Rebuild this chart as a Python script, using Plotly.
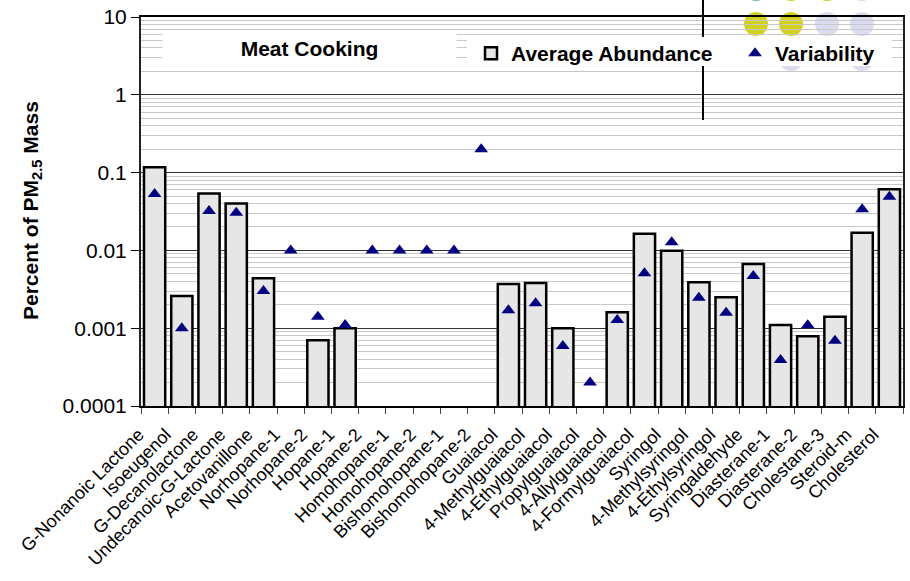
import plotly.graph_objects as go

categories = ["G-Nonanoic Lactone", "Isoeugenol", "G-Decanolactone", "Undecanoic-G-Lactone",
              "Acetovanillone", "Norhopane-1", "Norhopane-2", "Hopane-1", "Hopane-2",
              "Homohopane-1", "Homohopane-2", "Bishomohopane-1", "Bishomohopane-2",
              "Guaiacol", "4-Methylguaiacol", "4-Ethylguaiacol", "Propylguaiacol",
              "4-Allylguaiacol", "4-Formylguaiacol", "Syringol", "4-Methylsyringol",
              "4-Ethylsyringol", "Syringaldehyde", "Diasterane-1", "Diasterane-2",
              "Cholestane-3", "Steroid-m", "Cholesterol"]

average_abundance = [0.117, 0.0026, 0.054, 0.040, 0.0044, None, 0.0007, 0.001, None,
                     None, None, None, None, 0.0037, 0.0038, 0.001, None, 0.0016,
                     0.0164, 0.0099, 0.0039, 0.0025, 0.0067, 0.0011, 0.00079, 0.0014,
                     0.0169, 0.061]

variability = [0.053, 0.001, 0.032, 0.0305, 0.0030, 0.01, 0.0014, 0.0011, 0.01,
               0.01, 0.01, 0.01, 0.2, 0.0017, 0.0021, 0.00059, 0.0002, 0.00127,
               0.0051, 0.0127, 0.00247, 0.00158, 0.0047, 0.00039, 0.00109, 0.00069,
               0.0337, 0.049]

y_tickvals = [0.0001, 0.001, 0.01, 0.1, 1, 10]
y_ticktext = ["0.0001", "0.001", "0.01", "0.1", "1", "10"]

FONT = "Liberation Sans, Arial, sans-serif"

fig = go.Figure()
fig.add_trace(go.Bar(
    x=categories, y=average_abundance,
    name="<b>Average Abundance</b>" + "\u00a0" * 3,
    marker=dict(color="#e6e6e6", line=dict(color="black", width=2.5)),
    width=0.78,
))
fig.add_trace(go.Scatter(
    x=categories, y=variability, mode="markers", name="<b>Variability</b>",
    marker=dict(symbol="triangle-up", size=12, color="#000080"),
))

def px_x(px):
    return (px - 141) / 762.0

def px_y(py):
    return (406 - py) / 389.0

shapes = []
# decorative circles (top right)
circ = [(756, -11, "#7fb3b3"), (791, -11, "#d2d21e"), (827, -11, "#d2d21e"), (862, -11, "#dcdcf0"),
        (756, 24, "#d2d21e"), (791, 24, "#d2d21e"), (827, 24, "#dcdcf0"), (862, 24, "#dcdcf0"),
        (791, 59, "#dcdcf0"), (862, 59, "#dcdcf0")]
for cx, cy, col in circ:
    shapes.append(dict(type="circle", xref="paper", yref="paper",
                       x0=px_x(cx - 12), x1=px_x(cx + 12), y0=px_y(cy + 12), y1=px_y(cy - 12),
                       fillcolor=col, line=dict(width=0), layer="below"))
shapes.append(dict(type="line", xref="paper", yref="paper",
                   x0=px_x(703), x1=px_x(703), y0=px_y(120), y1=px_y(0),
                   line=dict(color="black", width=2)))
# white background box behind the legend
shapes.append(dict(type="rect", xref="paper", yref="paper",
                   x0=px_x(467), x1=px_x(892), y0=px_y(66), y1=px_y(37),
                   fillcolor="white", line=dict(width=0), layer="above"))

fig.update_layout(
    width=910, height=581,
    margin=dict(l=141, r=7, t=17, b=175),
    paper_bgcolor="white", plot_bgcolor="white",
    font=dict(family=FONT, color="black"),
    showlegend=True,
    legend=dict(orientation="h", x=px_x(471), y=px_y(33), xanchor="left", yanchor="top",
                bgcolor="rgba(0,0,0,0)", font=dict(size=21, family=FONT, color="black")),
    shapes=shapes,
    annotations=[
        dict(text="<b>Meat Cooking</b>", xref="paper", yref="paper",
             x=px_x(309.5), y=px_y(48), xanchor="center", yanchor="middle",
             showarrow=False, font=dict(size=21, family=FONT, color="black"),
             bgcolor="white", width=291, height=32),
        dict(text="<b>Percent of PM<sub>2.5</sub> Mass</b>", xref="paper", yref="paper",
             x=px_x(32), y=px_y(211), xanchor="center", yanchor="middle", textangle=-90,
             showarrow=False, font=dict(size=21, family=FONT, color="black")),
    ],
)

fig.update_xaxes(
    type="category", range=[-0.5, len(categories) - 0.5],
    tickangle=-45, tickfont=dict(size=18, family=FONT, color="black"),
    ticklabelshift=-16, ticklabelstandoff=9,
    tickson="boundaries", ticks="outside", ticklen=6, tickcolor="#444",
    showline=True, linecolor="black", linewidth=2, mirror=True,
    showgrid=False, automargin=False,
)
fig.update_yaxes(
    type="log", range=[-4, 1],
    tickmode="array", tickvals=y_tickvals, ticktext=y_ticktext,
    tickfont=dict(size=21, family=FONT, color="black"),
    ticks="outside", ticklen=8, tickcolor="black",
    showline=True, linecolor="#222", linewidth=2, mirror=True,
    showgrid=True, gridcolor="#333", gridwidth=1,
    minor=dict(dtick="D1", showgrid=True, gridcolor="#c8c8c8", gridwidth=1, ticks=""),
    zeroline=False, automargin=False,
)

fig.write_html("out.html", config={"displayModeBar": False},
               post_script="document.body.style.margin='0px';")
